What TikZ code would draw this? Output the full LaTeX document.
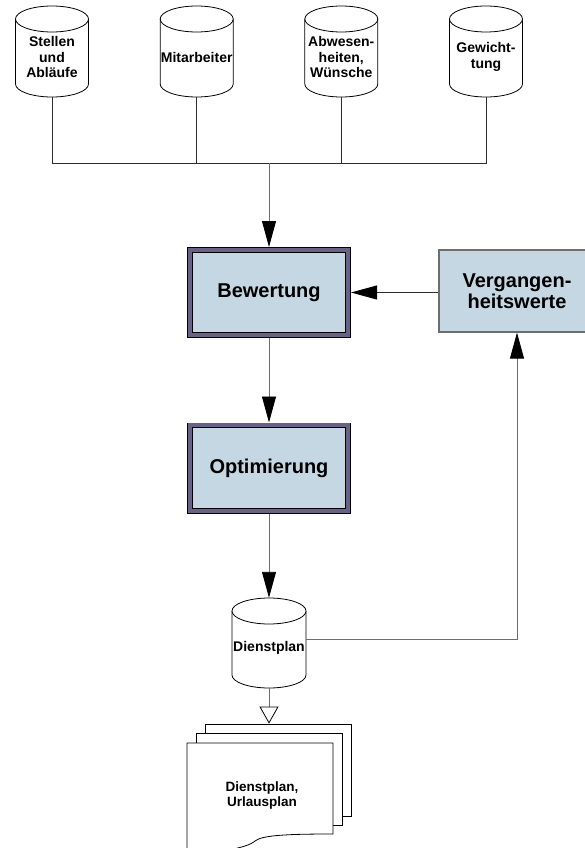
\documentclass[tikz,border=0pt]{standalone}
\usepackage{fontspec}
\setmainfont{Liberation Sans}
\usetikzlibrary{arrows.meta}

\definecolor{boxfill}{RGB}{197,215,226}
\definecolor{boxrim}{RGB}{104,98,134}
\definecolor{wire}{RGB}{110,110,110}
\definecolor{busline}{RGB}{45,45,45}

% outline of a data store: x, y (centre), width, height
\newcommand\drum[4]{%
  \draw[drumline] (#1-#3/2,#2-#4/2+13) -- (#1-#3/2,#2+#4/2-13)
    arc[start angle=180,end angle=0,x radius=#3/2,y radius=13]
    -- (#1+#3/2,#2-#4/2+13);
  \draw[drumline] (#1,#2-#4/2+13) ellipse [x radius=#3/2,y radius=13];
}

\tikzset{
  wire/.style={draw=wire, line width=0.9pt},
  bus/.style={draw=busline, line width=0.9pt},
  pointer/.style={wire, -{Triangle[length=26pt,width=14pt,fill=black,color=black]}},
  hollow/.style={wire, -{Triangle[open,length=17pt,width=19pt,fill=white,color=black,line width=0.8pt]}},
  drumline/.style={draw=black, line width=0.8pt, fill=white},
  drumbox/.style={minimum width=73pt, minimum height=91pt, inner sep=0pt},
  storetext/.style={align=center, font=\bfseries\fontsize{14}{15.5}\selectfont, inner sep=0pt},
  process/.style={draw=black, line width=0.8pt, double=boxrim, double distance=4pt,
    fill=boxfill, minimum width=158.4pt, minimum height=85.4pt, outer sep=2.8pt,
    align=center, font=\bfseries\fontsize{20}{21}\selectfont},
  memory/.style={draw=wire, line width=1.2pt, fill=boxfill, minimum width=156pt,
    minimum height=82pt, align=center, font=\bfseries\fontsize{20}{21}\selectfont},
  sheet/.style={draw=black, line width=0.8pt, fill=white, minimum width=146pt,
    minimum height=92pt, inner sep=0pt}
}

\begin{document}
\begin{tikzpicture}[x=1pt,y=1pt,yscale=-1]
\useasboundingbox (0,0) rectangle (584,848);

% data stores on top
\foreach \x/\n/\t in {52/stellen/{Stellen\\und\\Abläufe},
                      196.7/mitarb/{Mitarbeiter},
                      341.3/abwesen/{Abwesen-\\heiten,\\Wünsche},
                      486/gewicht/{Gewicht-\\tung}}{
  \drum{\x}{51.5}{73}{91}
  \node[drumbox] (\n) at (\x,51.5) {};
  \node[storetext] (\n-t) at (\x,57) {\t};
}

% bus line
\coordinate (bus) at (269,163);
\draw[bus] (stellen.south) |- (gewicht.south |- bus) -- (gewicht.south);
\draw[bus] (mitarb.south) -- (mitarb.south |- bus);
\draw[bus] (abwesen.south) -- (abwesen.south |- bus);

% processes
\node[process] (bewert) at (269,292.5) {Bewertung};
\node[process] (optim) at (269,468) {Optimierung};
\node[memory] (vergang) at (517,291) {Vergangen-\\heitswerte};

% Dienstplan store
\drum{269}{643}{74}{90}
\node[drumbox, minimum width=74pt, minimum height=90pt] (dienst) at (269,643) {};
\node[storetext] (dienst-t) at (269,648) {Dienstplan};

% document stack
\node[sheet] (back) at (278,770) {};
\node[sheet] (middle) at (269,779) {};
\draw[line width=0.8pt, fill=white] (187,743) -- (333,743) -- (333,834)
  .. controls (290,834) and (262,835) .. (255,841)
  .. controls (246,849) and (215,852) .. (187,856) -- cycle;
\node[storetext, font=\bfseries\fontsize{13.5}{15}\selectfont] (urlaub) at (262,795) {Dienstplan,\\Urlausplan};

% connectors
\draw[pointer] (bus) -- (bewert.north);
\draw[pointer, draw=busline] (vergang.west |- bewert.east) -- (bewert.east);
\draw[pointer] (bewert.south) -- (optim.north);
\draw[pointer] (optim.south) -- (dienst.north);
\draw[pointer] ([yshift=-4pt]dienst.east) -| (vergang.south);
\draw[hollow] (dienst.south) -- (dienst.south |- back.north);

\end{tikzpicture}
\end{document}
